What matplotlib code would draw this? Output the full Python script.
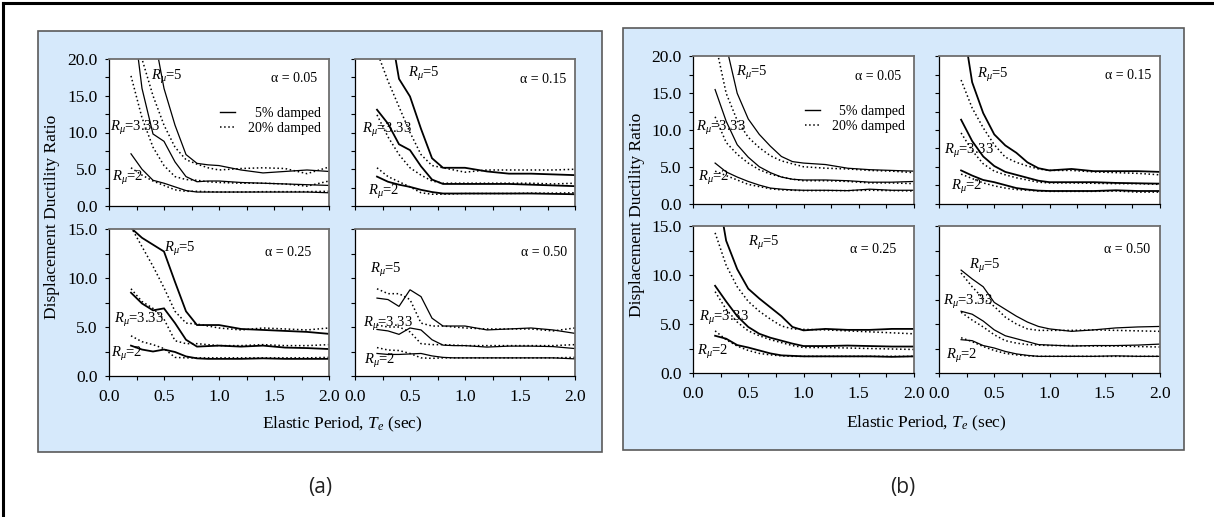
import matplotlib
matplotlib.use('Agg')
import matplotlib.pyplot as plt
from matplotlib.lines import Line2D
from matplotlib.patches import Rectangle
from matplotlib.ticker import MultipleLocator, FormatStrFormatter

plt.rcParams['font.family'] = ['Liberation Serif', 'DejaVu Serif']
plt.rcParams['mathtext.fontset'] = 'custom'
plt.rcParams['mathtext.rm'] = 'Liberation Serif'
plt.rcParams['mathtext.it'] = 'Liberation Serif:italic'

# ---------------- data ----------------
T = [0.2, 0.3, 0.4, 0.5, 0.6, 0.7, 0.8, 0.9, 1.0, 1.2, 1.4, 1.6, 1.8, 2.0]
R_NAMES = ['2', '3.33', '5']
ALPHA_NAMES = ['0.05', '0.15', '0.25', '0.50']
LEGEND_LABELS = ['  5% damped', '20% damped']
Y_LIMITS = [20.0, 20.0, 15.0, 15.0]

# (a) alpha = 0.05
a05_s2 = [7.1, 5.0, 3.5, 3.1, 2.6, 2.1, 1.9, 1.9, 1.9, 1.9, 1.9, 1.9, 1.9, 1.8]
a05_d2 = [5.2, 4.2, 3.4, 2.8, 2.2, 2.0, 2.0, 1.95, 1.9, 1.9, 1.95, 1.95, 1.95, 2.0]
a05_s33 = [28, 16, 9.8, 8.8, 6.0, 4.0, 3.3, 3.4, 3.4, 3.2, 3.1, 3.0, 2.9, 2.8]
a05_d33 = [17.7, 12, 8.0, 5.5, 4.0, 3.6, 3.5, 3.3, 3.2, 3.1, 3.1, 3.0, 2.7, 3.4]
a05_s5 = [40, 30, 24, 16, 11, 7.0, 5.8, 5.6, 5.5, 4.9, 4.5, 4.7, 4.9, 4.7]
a05_d5 = [28, 20, 15, 11, 8.0, 6.3, 5.7, 5.2, 4.9, 5.1, 5.2, 5.1, 4.4, 5.3]
# (a) alpha = 0.15
a15_s2 = [4.0, 3.3, 2.9, 2.6, 2.2, 1.9, 1.7, 1.7, 1.7, 1.7, 1.7, 1.7, 1.65, 1.6]
a15_d2 = [5.2, 4.0, 3.3, 2.6, 1.8, 1.6, 1.6, 1.65, 1.7, 1.7, 1.7, 1.75, 1.75, 1.8]
a15_s33 = [13.1, 11.2, 8.4, 7.6, 5.4, 3.6, 3.0, 3.0, 3.0, 3.0, 3.0, 2.9, 2.8, 2.7]
a15_d33 = [12.4, 9.4, 7.0, 5.2, 4.2, 3.4, 3.1, 3.1, 3.1, 3.1, 3.1, 3.1, 3.0, 3.1]
a15_s5 = [35, 26, 17.3, 14.9, 10.5, 6.5, 5.2, 5.2, 5.2, 4.7, 4.4, 4.4, 4.3, 4.2]
a15_d5 = [21, 17, 13.5, 10, 7.0, 5.5, 5.2, 4.9, 4.6, 4.9, 4.9, 4.9, 4.9, 5.0]
# (a) alpha = 0.25
a25_s2 = [3.1, 2.7, 2.5, 2.7, 2.45, 2.0, 1.8, 1.75, 1.75, 1.75, 1.8, 1.75, 1.75, 1.75]
a25_d2 = [4.1, 3.5, 3.2, 2.8, 1.9, 1.85, 1.85, 1.85, 1.85, 1.85, 1.85, 1.85, 1.85, 1.9]
a25_s33 = [8.5, 7.4, 6.7, 6.9, 5.4, 3.7, 3.0, 3.05, 3.1, 3.0, 3.1, 2.9, 2.85, 2.75]
a25_d33 = [8.9, 7.6, 6.9, 5.8, 3.6, 3.3, 3.3, 3.2, 3.1, 3.1, 3.2, 3.1, 3.1, 3.2]
a25_s5 = [15.1, 14.1, 13.4, 12.7, 9.6, 6.6, 5.2, 5.2, 5.2, 4.8, 4.7, 4.6, 4.5, 4.3]
a25_d5 = [15.2, 13.2, 11.2, 9.0, 6.6, 5.4, 5.3, 5.1, 4.9, 4.7, 4.9, 4.8, 4.7, 4.9]
# (a) alpha = 0.50
a50_s2 = [2.3, 2.2, 2.2, 2.25, 2.3, 2.05, 1.9, 1.85, 1.85, 1.85, 1.85, 1.85, 1.85, 1.75]
a50_d2 = [2.9, 2.65, 2.6, 2.3, 1.85, 1.8, 1.85, 1.85, 1.85, 1.85, 1.85, 1.85, 1.85, 1.9]
a50_s33 = [4.75, 4.6, 4.25, 4.9, 4.7, 3.7, 3.15, 3.1, 3.1, 2.95, 3.05, 3.05, 3.0, 2.8]
a50_d33 = [5.2, 5.0, 5.0, 4.5, 3.3, 3.2, 3.2, 3.15, 3.1, 3.1, 3.1, 3.1, 3.1, 3.2]
a50_s5 = [7.95, 7.8, 7.1, 8.8, 8.1, 5.9, 5.1, 5.1, 5.1, 4.7, 4.8, 4.9, 4.7, 4.35]
a50_d5 = [8.9, 8.4, 8.4, 7.8, 5.4, 5.1, 5.1, 5.0, 4.9, 4.8, 4.8, 4.8, 4.6, 4.9]

# (b) alpha = 0.05
b05_s2 = [5.5, 4.3, 3.6, 3.0, 2.5, 2.1, 1.95, 1.85, 1.8, 1.8, 1.75, 1.95, 1.8, 1.8]
b05_d2 = [4.4, 3.8, 3.2, 2.6, 2.3, 2.0, 1.85, 1.8, 1.75, 1.75, 1.75, 1.8, 1.75, 1.7]
b05_s33 = [15.5, 11.2, 8.0, 6.3, 5.0, 4.2, 3.6, 3.3, 3.2, 3.2, 3.1, 2.9, 2.9, 3.0]
b05_d33 = [11.8, 8.3, 6.7, 5.5, 4.6, 4.0, 3.6, 3.3, 3.1, 3.1, 3.0, 2.8, 2.8, 2.7]
b05_s5 = [30, 21.5, 15, 11.5, 9.4, 7.8, 6.4, 5.7, 5.5, 5.3, 4.8, 4.6, 4.5, 4.4]
b05_d5 = [22, 15, 11.3, 9.0, 7.6, 6.5, 5.8, 5.4, 5.0, 4.8, 4.7, 4.5, 4.4, 4.2]
# (b) alpha = 0.15
b15_s2 = [4.5, 3.8, 3.2, 2.9, 2.5, 2.1, 1.9, 1.75, 1.7, 1.7, 1.7, 1.8, 1.7, 1.7]
b15_d2 = [4.0, 3.4, 2.8, 2.4, 2.1, 1.9, 1.8, 1.7, 1.65, 1.65, 1.65, 1.7, 1.55, 1.55]
b15_s33 = [11.4, 8.5, 6.4, 5.1, 4.3, 3.9, 3.5, 3.1, 2.9, 2.9, 2.9, 2.8, 2.75, 2.7]
b15_d33 = [9.6, 7.2, 5.4, 4.4, 3.9, 3.5, 3.2, 2.9, 2.8, 2.8, 2.75, 2.7, 2.7, 2.6]
b15_s5 = [26, 16.5, 12.3, 9.4, 7.9, 6.9, 5.6, 4.8, 4.5, 4.7, 4.4, 4.4, 4.4, 4.3]
b15_d5 = [16.8, 13.0, 10.3, 8.0, 6.3, 5.6, 5.1, 4.7, 4.5, 4.5, 4.3, 4.2, 4.1, 3.9]
# (b) alpha = 0.25
b25_s2 = [3.8, 3.5, 2.85, 2.6, 2.3, 2.0, 1.8, 1.75, 1.7, 1.7, 1.7, 1.7, 1.65, 1.7]
b25_d2 = [4.3, 3.4, 2.75, 2.3, 2.0, 1.85, 1.75, 1.7, 1.7, 1.7, 1.7, 1.7, 1.7, 1.7]
b25_s33 = [8.9, 7.3, 5.8, 4.7, 4.0, 3.6, 3.3, 3.0, 2.75, 2.75, 2.8, 2.75, 2.7, 2.7]
b25_d33 = [8.3, 6.5, 5.2, 4.3, 3.8, 3.4, 3.1, 2.8, 2.6, 2.6, 2.55, 2.5, 2.45, 2.4]
b25_s5 = [20, 13.5, 10.6, 8.6, 7.6, 6.7, 5.8, 4.7, 4.35, 4.5, 4.4, 4.4, 4.5, 4.5]
b25_d5 = [14.3, 11.0, 8.8, 7.3, 6.3, 5.5, 4.8, 4.5, 4.45, 4.4, 4.3, 4.2, 4.1, 4.0]
# (b) alpha = 0.50
b50_s2 = [3.4, 3.3, 2.8, 2.55, 2.2, 1.95, 1.8, 1.7, 1.7, 1.7, 1.7, 1.75, 1.7, 1.7]
b50_d2 = [3.6, 3.2, 2.7, 2.3, 2.0, 1.85, 1.75, 1.7, 1.7, 1.7, 1.7, 1.7, 1.7, 1.7]
b50_s33 = [6.3, 6.0, 5.3, 4.4, 3.8, 3.5, 3.2, 2.9, 2.85, 2.75, 2.8, 2.8, 2.85, 2.95]
b50_d33 = [6.2, 5.4, 4.7, 3.9, 3.3, 3.05, 2.9, 2.85, 2.8, 2.8, 2.75, 2.75, 2.7, 2.65]
b50_s5 = [10.5, 9.6, 8.8, 7.2, 6.5, 5.8, 5.2, 4.75, 4.5, 4.25, 4.4, 4.6, 4.7, 4.75]
b50_d5 = [10.2, 8.8, 7.6, 6.8, 5.7, 5.0, 4.5, 4.35, 4.35, 4.35, 4.4, 4.35, 4.3, 4.25]

PANEL_A = [
    ([a05_s2, a05_s33, a05_s5], [a05_d2, a05_d33, a05_d5]),
    ([a15_s2, a15_s33, a15_s5], [a15_d2, a15_d33, a15_d5]),
    ([a25_s2, a25_s33, a25_s5], [a25_d2, a25_d33, a25_d5]),
    ([a50_s2, a50_s33, a50_s5], [a50_d2, a50_d33, a50_d5]),
]
PANEL_B = [
    ([b05_s2, b05_s33, b05_s5], [b05_d2, b05_d33, b05_d5]),
    ([b15_s2, b15_s33, b15_s5], [b15_d2, b15_d33, b15_d5]),
    ([b25_s2, b25_s33, b25_s5], [b25_d2, b25_d33, b25_d5]),
    ([b50_s2, b50_s33, b50_s5], [b50_d2, b50_d33, b50_d5]),
]

# ---------------- layout (pixels) ----------------
W, H = 1214, 517
fig = plt.figure(figsize=(W / 100, H / 100), dpi=100)
fig.patch.set_facecolor('white')


def rect(x0, y0, x1, y1):
    return [x0 / W, 1 - y1 / H, (x1 - x0) / W, (y1 - y0) / H]


BLUE = '#d6e9fb'
# framing lines of the page
fig.add_artist(Line2D([3 / W, 3 / W], [0, 1 - 3 / H], transform=fig.transFigure,
                      color='black', lw=2.2))
fig.add_artist(Line2D([3 / W, 1], [1 - 3 / H, 1 - 3 / H], transform=fig.transFigure,
                      color='black', lw=2.2))

boxes = [(38, 31, 602, 452), (623, 28, 1184, 450)]
for (x0, y0, x1, y1) in boxes:
    fig.add_artist(Rectangle((x0 / W, 1 - y1 / H), (x1 - x0) / W, (y1 - y0) / H,
                             transform=fig.transFigure, facecolor=BLUE,
                             edgecolor='#5a5a5a', lw=1.2, zorder=0))

axes_px_a = [(109, 59, 329, 206), (355, 59, 575, 206),
             (109, 229, 329, 376), (355, 229, 575, 376)]
axes_px_b = [(693, 56.5, 914, 203.5), (939, 56.5, 1160, 203.5),
             (693, 226, 914, 373), (939, 226, 1160, 373)]

# label placement (data coordinates within each panel): left x, baseline y
rlab_a = [[(0.03, 3.4), (0.01, 10.2), (0.385, 17.1)],
          [(0.12, 1.5), (0.06, 9.9), (0.485, 17.5)],
          [(0.02, 1.9), (0.05, 5.4), (0.50, 12.7)],
          [(0.08, 1.2), (0.07, 5.0), (0.14, 10.5)]]
rlab_b = [[(0.045, 3.1), (0.024, 9.9), (0.39, 17.4)],
          [(0.11, 1.9), (0.045, 6.8), (0.344, 17.1)],
          [(0.036, 1.8), (0.055, 5.3), (0.50, 13.0)],
          [(0.067, 1.4), (0.04, 6.9), (0.27, 10.6)]]
alab_a = [(1.89, 16.9), (1.92, 16.8), (1.84, 12.2), (1.93, 12.2)]
alab_b = [(1.88, 16.8), (1.92, 16.9), (1.84, 12.2), (1.91, 12.2)]
solid_lw_a = [0.9, 1.3, 1.3, 0.9]
solid_lw_b = [0.9, 1.3, 1.3, 0.9]

DOT = (0, (1, 1.7))


def style_axes(ax, idx, ymax):
    ax.set_xlim(0, 2.0)
    ax.set_ylim(0, ymax)
    ax.set_facecolor('white')
    ax.xaxis.set_major_locator(MultipleLocator(0.5))
    ax.xaxis.set_minor_locator(MultipleLocator(0.25))
    ax.yaxis.set_major_locator(MultipleLocator(5))
    ax.yaxis.set_minor_locator(MultipleLocator(2.5))
    ax.xaxis.set_major_formatter(FormatStrFormatter('%.1f'))
    ax.yaxis.set_major_formatter(FormatStrFormatter('%.1f'))
    ax.tick_params(which='both', direction='out', length=3.2, width=0.8,
                   top=False, right=False, labelsize=12.5)
    ax.tick_params(axis='x', pad=6)
    ax.tick_params(axis='y', pad=5)
    if idx in (0, 1):
        ax.tick_params(axis='x', labelbottom=False)
    if idx in (1, 3):
        ax.tick_params(axis='y', labelleft=False)
    for s in ('top', 'right'):
        ax.spines[s].set_color('#6e6e6e')
        ax.spines[s].set_linewidth(1.3)
    for s in ('left', 'bottom'):
        ax.spines[s].set_color('black')
        ax.spines[s].set_linewidth(0.9)


def draw_group(axes_px, panels, rlabs, alabs, lws, with_legend_idx=0):
    for i, (px, (solids, dots)) in enumerate(zip(axes_px, panels)):
        ax = fig.add_axes(rect(*px))
        style_axes(ax, i, Y_LIMITS[i])
        for ys in solids:
            ax.plot(T, ys, color='black', lw=lws[i], solid_joinstyle='miter')
        for ys in dots:
            ax.plot(T, ys, color='black', lw=1.1, linestyle=DOT)
        for name, (lx, ly) in zip(R_NAMES, rlabs[i]):
            ax.text(lx, ly, r'$R_{\mu}$=' + name, fontsize=10.5, ha='left',
                    va='baseline')
        ax.text(alabs[i][0], alabs[i][1], '\u03b1 = ' + ALPHA_NAMES[i],
                fontsize=10, ha='right', va='baseline')
        if i == with_legend_idx:
            handles = [Line2D([], [], color='black', lw=1.0),
                       Line2D([], [], color='black', lw=1.1, linestyle=DOT)]
            ax.legend(handles, LEGEND_LABELS, loc='upper left',
                      bbox_to_anchor=(0.505, 0.672), frameon=False,
                      fontsize=10, handlelength=1.1, handletextpad=0.9,
                      labelspacing=0.15, borderpad=0, borderaxespad=0)


draw_group(axes_px_a, PANEL_A, rlab_a, alab_a, solid_lw_a)
draw_group(axes_px_b, PANEL_B, rlab_b, alab_b, solid_lw_b)

# axis titles
fig.text(52 / W, 1 - 217 / H, 'Displacement Ductility Ratio', rotation=90,
         ha='center', va='center', fontsize=12.5)
fig.text(637 / W, 1 - 215 / H, 'Displacement Ductility Ratio', rotation=90,
         ha='center', va='center', fontsize=12.5)
fig.text(342 / W, 1 - 424 / H, 'Elastic Period, $T_e$ (sec)',
         ha='center', va='center', fontsize=12.5)
fig.text(926 / W, 1 - 423 / H, 'Elastic Period, $T_e$ (sec)',
         ha='center', va='center', fontsize=12.5)

fig.text(320 / W, 1 - 488 / H, '(a)', ha='center', va='center', fontsize=15,
         family=['Open Sans', 'DejaVu Sans'], color='#222222')
fig.text(903 / W, 1 - 488 / H, '(b)', ha='center', va='center', fontsize=15,
         family=['Open Sans', 'DejaVu Sans'], color='#222222')

fig.savefig('out.png', dpi=100, facecolor='white')
